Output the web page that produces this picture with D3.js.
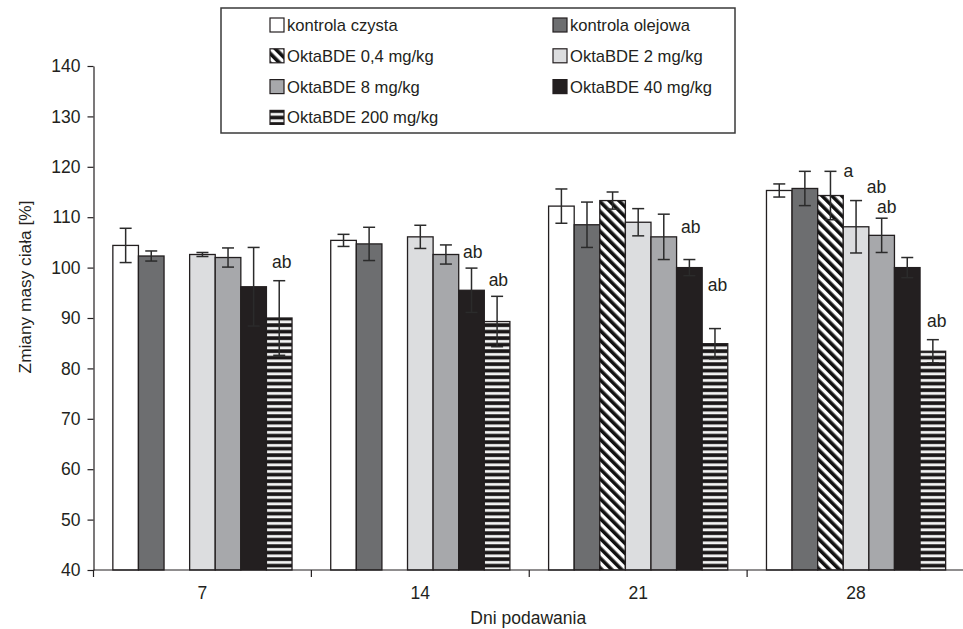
<!DOCTYPE html>
<html>
<head>
<meta charset="utf-8">
<script src="https://cdn.jsdelivr.net/npm/d3@7"></script>
<style>
  body { margin: 0; background: #fff; }
  text { font-family: "Liberation Sans", Arial, sans-serif; fill: #231f20; }
</style>
</head>
<body>
<script>
// dni podawania
var days = ["7", "14", "21", "28"];

var seriesNames = ["kontrola czysta", "kontrola olejowa", "OktaBDE 0,4 mg/kg",
                   "OktaBDE 2 mg/kg", "OktaBDE 8 mg/kg", "OktaBDE 40 mg/kg", "OktaBDE 200 mg/kg"];

// srednie [%]
var kontrolaCzysta  = [104.4, 105.4, 112.2, 115.3];
var kontrolaOlejowa = [102.3, 104.7, 108.5, 115.7];
var okta04  = [null, null, 113.3, 114.3];
var okta2   = [102.6, 106.1, 109.0, 108.1];
var okta8   = [102.0, 102.6, 106.1, 106.4];
var okta40  = [96.2, 95.5, 100.0, 100.0];
var okta200 = [90.0, 89.3, 84.9, 83.4];

// odchylenia
var sdCzysta  = [3.4, 1.2, 3.4, 1.3];
var sdOlejowa = [1.0, 3.3, 4.5, 3.4];
var sd04  = [null, null, 1.7, 4.8];
var sd2   = [0.4, 2.3, 2.7, 5.2];
var sd8   = [1.9, 1.9, 4.5, 3.4];
var sd40  = [7.8, 4.4, 1.6, 2.0];
var sd200 = [7.4, 5.0, 3.0, 2.3];

var yTicks = [40, 50, 60, 70, 80, 90, 100, 110, 120, 130, 140];

// oznaczenia istotnosci
var labelDay    = ["7", "14", "14", "21", "21", "28", "28", "28", "28"];
var labelSeries = [6, 5, 6, 5, 6, 2, 3, 4, 6];
var labelText   = ["ab", "ab", "ab", "ab", "ab", "a", "ab", "ab", "ab"];
var labelValue  = [100.0, 102.0, 96.3, 106.8, 95.3, 117.9, 114.8, 110.9, 88.3];
var labelShift  = [0.1, 0.05, 0.05, 0.05, 0.1, 0.7, 0.8, 0.2, 0.15];

var means = [kontrolaCzysta, kontrolaOlejowa, okta04, okta2, okta8, okta40, okta200];
var sds   = [sdCzysta, sdOlejowa, sd04, sd2, sd8, sd40, sd200];
var fills = ["#ffffff", "#6d6e70", "url(#hatch)", "#dcdddf", "#a7a8ab", "#231f20", "url(#stripes)"];

var svg_width  = 963;
var svg_height = 629;
var ink = "#231f20";

var svg = d3.select("body").append("svg")
            .attr("width", svg_width)
            .attr("height", svg_height);

var defs = svg.append("defs");

var hatch = defs.append("pattern")
    .attr("id", "hatch")
    .attr("patternUnits", "userSpaceOnUse")
    .attr("width", 7).attr("height", 7)
    .attr("patternTransform", "rotate(-45)");
hatch.append("rect").attr("width", 7).attr("height", 7).attr("fill", "#fff");
hatch.append("rect").attr("width", 3.6).attr("height", 7).attr("fill", "#111");

var stripes = defs.append("pattern")
    .attr("id", "stripes")
    .attr("patternUnits", "userSpaceOnUse")
    .attr("width", 10).attr("height", 6.5);
stripes.append("rect").attr("width", 10).attr("height", 6.5).attr("fill", "#1a1718");
stripes.append("rect").attr("y", 2).attr("width", 10).attr("height", 2.8).attr("fill", "#f4f4f4");

var x = d3.scaleBand()
          .domain(days)
          .range([93.5, 965])
          .padding(0);

var xs = d3.scaleBand()
           .domain(d3.range(seriesNames.length))
           .range([0, x.bandwidth()])
           .paddingInner(0)
           .paddingOuter(0.756);

var y = d3.scaleLinear()
          .domain([40, 140])
          .range([570, 66]);

var rows = [];
days.forEach(function(d, i) {
  means.forEach(function(m, s) {
    if (m[i] != null) rows.push({day: d, s: s, value: m[i], sd: sds[s][i]});
  });
});

// slupki
svg.append("g")
   .selectAll("rect")
   .data(rows)
   .enter().append("rect")
   .attr("x", d => x(d.day) + xs(d.s))
   .attr("y", d => y(d.value))
   .attr("width", xs.bandwidth())
   .attr("height", d => y(40) - y(d.value))
   .attr("fill", d => fills[d.s])
   .attr("stroke", ink)
   .attr("stroke-width", 1.3);

// slupki bledow
var cap = 6;
var err = svg.append("g")
   .attr("stroke", "#2b2b2b")
   .attr("stroke-width", 1.5)
   .selectAll("g")
   .data(rows)
   .enter().append("g")
   .attr("transform", d => "translate(" + (x(d.day) + xs(d.s) + xs.bandwidth()/2) + ",0)");

err.append("line")
   .attr("y1", d => y(d.value + d.sd))
   .attr("y2", d => y(d.value - d.sd));
err.append("line")
   .attr("x1", -cap).attr("x2", cap)
   .attr("y1", d => y(d.value + d.sd)).attr("y2", d => y(d.value + d.sd));
err.append("line")
   .attr("x1", -cap).attr("x2", cap)
   .attr("y1", d => y(d.value - d.sd)).attr("y2", d => y(d.value - d.sd));

// oznaczenia
svg.append("g")
   .selectAll("text")
   .data(labelText)
   .enter().append("text")
   .attr("x", (t, i) => x(labelDay[i]) + xs(labelSeries[i]) + xs.bandwidth() * (0.5 + labelShift[i]))
   .attr("y", (t, i) => y(labelValue[i]))
   .attr("text-anchor", "middle")
   .style("font-size", "17.5px")
   .text(t => t);

// os Y
var yAxis = svg.append("g")
   .attr("transform", "translate(93.5,0)")
   .call(d3.axisLeft(y).tickValues(yTicks).tickSize(6).tickSizeOuter(0).tickPadding(7));
yAxis.select(".domain").attr("stroke", ink).attr("stroke-width", 1.2);
yAxis.selectAll(".tick line").attr("stroke", ink).attr("stroke-width", 1.2);
yAxis.selectAll(".tick text")
     .style("font-size", "17.5px")
     .style("font-family", "'Liberation Sans', Arial, sans-serif")
     .attr("fill", ink);

// os X
var xAxis = svg.append("g")
   .attr("transform", "translate(0,570)")
   .call(d3.axisBottom(x).tickSize(0).tickPadding(17));
xAxis.select(".domain").remove();
xAxis.selectAll(".tick text")
     .style("font-size", "17.5px")
     .style("font-family", "'Liberation Sans', Arial, sans-serif")
     .attr("fill", ink);
xAxis.append("line")
     .attr("x1", 93.5).attr("x2", svg_width)
     .attr("stroke", ink).attr("stroke-width", 1.2);
xAxis.selectAll(".bound")
     .data(days)
     .enter().append("line")
     .attr("class", "bound")
     .attr("x1", d => x(d)).attr("x2", d => x(d))
     .attr("y1", 0).attr("y2", 7)
     .attr("stroke", ink).attr("stroke-width", 1.2);

svg.append("text")
   .attr("x", x.range()[0] + (x.range()[1] - x.range()[0]) / 2 - 1)
   .attr("y", 624)
   .attr("text-anchor", "middle")
   .style("font-size", "17.5px")
   .text("Dni podawania");

svg.append("text")
   .attr("transform", "translate(31,287) rotate(-90)")
   .attr("text-anchor", "middle")
   .style("font-size", "17.3px")
   .text("Zmiany masy ciała [%]");

// legenda
var legend = svg.append("g");
legend.append("rect")
      .attr("x", 221).attr("y", 8)
      .attr("width", 514).attr("height", 125)
      .attr("fill", "#fff")
      .attr("stroke", "#3a3a3a")
      .attr("stroke-width", 1.5);

var item = legend.selectAll(".item")
      .data(seriesNames)
      .enter().append("g")
      .attr("class", "item")
      .attr("transform", (d, i) => "translate(" + (i % 2 ? 553 : 270) + "," + (25 + Math.floor(i / 2) * 30.8) + ")");

item.append("rect")
    .attr("x", 0).attr("y", -7)
    .attr("width", 14).attr("height", 14)
    .attr("fill", (d, i) => fills[i])
    .attr("stroke", ink)
    .attr("stroke-width", 1.2);

item.append("text")
    .attr("x", 17)
    .attr("y", 6)
    .style("font-size", "16.6px")
    .text(d => d);
</script>
</body>
</html>
